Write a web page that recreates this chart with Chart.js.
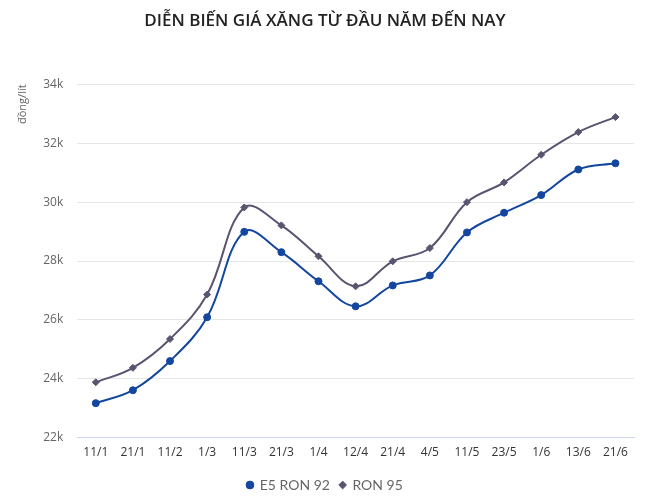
<!DOCTYPE html>
<html>
<head>
<meta charset="utf-8">
<script src="https://cdn.jsdelivr.net/npm/chart.js@4/dist/chart.umd.min.js"></script>
<style>
  html, body { margin: 0; padding: 0; background: #fff; }
  #wrap { width: 649px; height: 503px; position: relative; }
</style>
</head>
<body>
<div id="wrap"><canvas id="c" width="649" height="503"></canvas></div>
<script>
const categories = ["11/1","21/1","11/2","1/3","11/3","21/3","1/4","12/4","21/4","4/5","11/5","23/5","1/6","13/6","21/6"];
const e5Ron92 = [23170, 23610, 24600, 26090, 28990, 28300, 27310, 26460, 27170, 27510, 28970, 29640, 30240, 31110, 31320];
const ron95 = [23880, 24370, 25350, 26860, 29820, 29210, 28160, 27140, 27990, 28440, 30000, 30670, 31610, 32380, 32890];
const yTicks = [22000, 24000, 26000, 28000, 30000, 32000, 34000];
const seriesNames = ["E5 RON 92", "RON 95"];
const chartTitle = "DIỄN BIẾN GIÁ XĂNG TỪ ĐẦU NĂM ĐẾN NAY";
const yTitle = "đồng/lít";

const BLUE = "#13469e";
const GREY = "#5a5470";

new Chart(document.getElementById("c"), {
  type: "line",
  data: {
    labels: categories,
    datasets: [
      {
        label: seriesNames[0],
        data: e5Ron92,
        borderColor: BLUE,
        backgroundColor: BLUE,
        borderWidth: 2,
        pointStyle: "circle",
        pointRadius: 3.5,
        pointBorderWidth: 1,
        pointHoverRadius: 3.5,
        tension: 0.38,
        fill: false
      },
      {
        label: seriesNames[1],
        data: ron95,
        borderColor: GREY,
        backgroundColor: GREY,
        borderWidth: 2,
        pointStyle: "rectRot",
        pointRadius: 3.5,
        pointBorderWidth: 1,
        pointHoverRadius: 3.5,
        tension: 0.38,
        fill: false
      }
    ]
  },
  options: {
    responsive: false,
    animation: false,
    devicePixelRatio: 1,
    layout: { padding: { left: 16, right: 15, top: 8, bottom: 1 } },
    plugins: {
      title: {
        display: true,
        text: chartTitle,
        color: "#222222",
        font: { family: "'Open Sans'", size: 17, weight: "600" },
        padding: { top: 3, bottom: 53 }
      },
      legend: {
        position: "bottom",
        labels: {
          usePointStyle: true,
          boxWidth: 5.5,
          boxHeight: 5.5,
          padding: 10,
          color: "#666666",
          font: { family: "Lato", size: 14 }
        }
      },
      tooltip: { enabled: false }
    },
    scales: {
      x: {
        offset: true,
        grid: { display: false, drawTicks: false },
        border: { display: true, color: "#ccd6eb", width: 1 },
        ticks: {
          color: "#333333",
          font: { family: "'Open Sans'", size: 12 },
          padding: 8,
          maxRotation: 0,
          autoSkip: false
        }
      },
      y: {
        min: yTicks[0],
        max: yTicks[yTicks.length - 1],
        afterBuildTicks: (scale) => { scale.ticks = yTicks.map(v => ({ value: v })); },
        grid: { color: "#e6e6e6", drawTicks: false },
        border: { display: false },
        ticks: {
          color: "#666666",
          font: { family: "'Open Sans'", size: 12 },
          padding: 14,
          callback: (v) => (v / 1000) + "k"
        },
        title: {
          display: true,
          text: yTitle,
          align: "end",
          color: "#666666",
          font: { family: "'Open Sans'", size: 11 },
          padding: { top: 0, bottom: 0 }
        }
      }
    }
  }
});
</script>
</body>
</html>
